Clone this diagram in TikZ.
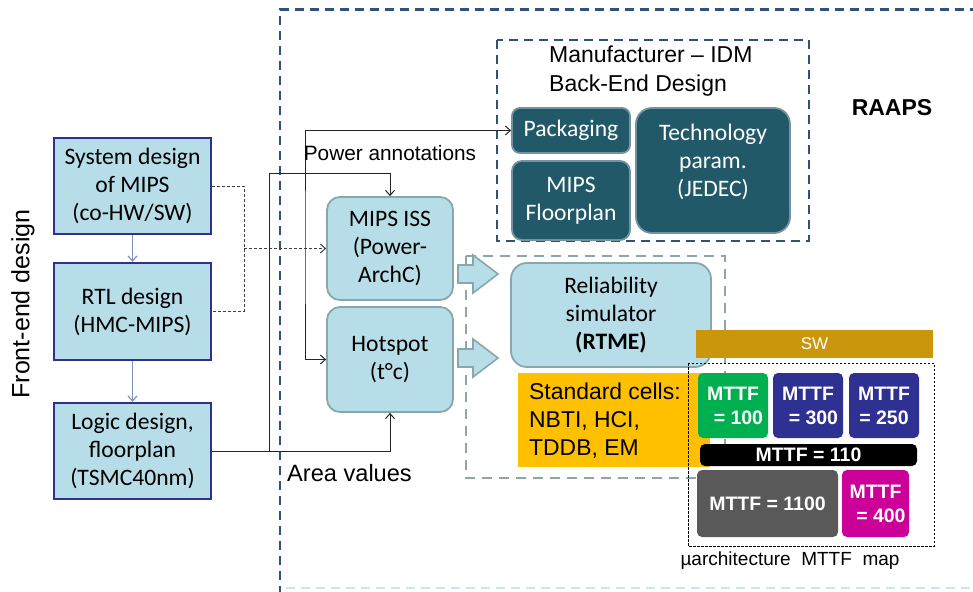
\documentclass[tikz,border=0pt]{standalone}
\usepackage{fontspec}
\setmainfont{Carlito}
\newfontfamily\arial{Liberation Sans}
\usetikzlibrary{arrows.meta}
\definecolor{lb}{HTML}{B7DEE8}
\definecolor{lbd}{HTML}{86A7AC}
\definecolor{navyb}{HTML}{2E3192}
\definecolor{dk}{HTML}{215968}
\definecolor{dkb}{HTML}{7393A0}
\definecolor{dblue}{HTML}{2F5278}
\definecolor{gdash}{HTML}{8FA6A6}
\definecolor{flowc}{HTML}{7F93B8}
\definecolor{orng}{HTML}{FFC000}
\definecolor{swc}{HTML}{C9960C}
\definecolor{gcell}{HTML}{00B050}
\definecolor{ncell}{HTML}{2E3192}
\definecolor{grcell}{HTML}{595959}
\definecolor{mcell}{HTML}{CC0099}
\definecolor{faintb}{HTML}{CFE3F0}
\begin{document}
\begin{tikzpicture}[x=1pt,y=-1pt,
  cal/.style={font=\fontsize{23.6}{28}\selectfont},
  lbox/.style={cal, draw=navyb, line width=2.4pt, fill=lb, minimum width=157, minimum height=96, inner sep=0, align=center},
  rnode/.style={cal, draw=lbd, line width=1.8pt, fill=lb, rounded corners=13pt, inner sep=0, align=center},
  dnode/.style={cal, draw=dkb, line width=1.8pt, fill=dk, rounded corners=9pt, text=white, inner sep=0, align=center},
  cell/.style={rounded corners=5pt, text=white, font=\arial\bfseries\fontsize{19.5}{24}\selectfont, align=center, inner sep=0},
  flow/.style={draw=flowc, line width=1.2pt, -{Straight Barb[length=5pt,width=9pt]}},
  dsh/.style={draw=black!75, line width=1pt, dash pattern=on 3pt off 2pt},
  ln/.style={draw=black!85, line width=1pt},
  tip/.style={-{Straight Barb[length=5pt,width=9pt]}},
  atext/.style={font=\arial\fontsize{#1}{#1}\selectfont, inner sep=0},
  barrow/.style={fill=lb, draw=lbd, line width=1.6pt, line join=miter}
]
\useasboundingbox (0,0) rectangle (973,591);
\clip (0,0) rectangle (973,591);
\fill[white] (0,0) rectangle (973,591);

% outer RAAPS dashed frame
\draw[dblue, line width=2.6pt, dash pattern=on 9pt off 6pt] (280,610) -- (280,9.5) -- (990,9.5);
\draw[faintb, line width=1.5pt, dash pattern=on 9pt off 6pt] (286,588) -- (973,588);

% left front-end boxes
\node[lbox] (b1) at (132.5,186) {System design\\of MIPS\\(co-HW/SW)};
\node[lbox, minimum height=97] (b2) at (132.5,311.5) {RTL design\\(HMC-MIPS)};
\node[lbox] (b3) at (132.5,451) {Logic design,\\floorplan\\(TSMC40nm)};
\draw[flow] (b1.south) -- (b2.north);
\draw[flow] (b2.south) -- (b3.north);
\node[atext=25, rotate=90] (fe) at (23,304) {Front-end design};

% ISS and Hotspot
\node[rnode, minimum width=126, minimum height=103] (iss) at (390,248.5) {MIPS ISS\\(Power-\\ArchC)};
\node[rnode, minimum width=126, minimum height=105] (hot) at (390,359.5) {Hotspot\\(t\textdegree c)};

% manufacturer box
\draw[dblue, line width=2.6pt, dash pattern=on 9pt off 6pt] (497,40) rectangle (809,241);
\node[anchor=west, align=left, inner sep=0, font=\arial\fontsize{23}{29}\selectfont] (man) at (549,71.5) {Manufacturer – IDM\\Back-End Design};
\node[dnode, minimum width=118, minimum height=45, rounded corners=8pt] (pack) at (571,130.5) {Packaging};
\node[dnode, minimum width=118, minimum height=79, rounded corners=10pt] (floor) at (571,200.5) {MIPS\\Floorplan};
\node[dnode, minimum width=154, minimum height=125, rounded corners=16pt] (tech) at (713,170.5) {};
\node[cal, text=white, align=center, inner sep=0] (techt) at (713,162) {Technology\\param.\\(JEDEC)};
\node[inner sep=0, font=\arial\bfseries\fontsize{23}{23}\selectfont] (raaps) at (892,108) {RAAPS};

% connectors
\coordinate (jd) at (244,248.5);
\draw[dsh] (b1.east) -| (jd) |- (b2.east);
\draw[dsh, tip] (jd) -- (iss.west);
\coordinate (js) at (269,451);
\coordinate (ja) at (269,173);
\draw[ln, tip] (b3.east) -| (hot.south);
\draw[ln, tip] (js) -- (ja) -| (iss.north);
\coordinate (pc) at (305,250);
\draw[ln, {Straight Barb[length=5pt,width=9pt]}-{Straight Barb[length=5pt,width=9pt]}] (pack.west) -| (pc) |- (hot.west);
\node[atext=20.8] (pwr) at (390,153) {Power annotations};
\node[atext=23.6, anchor=west] (area) at (287,473) {Area values};

% reliability region
\draw[gdash, line width=2pt, dash pattern=on 10pt off 7pt] (466,256) rectangle (725,478);
\draw[barrow] (458,265) -- (473,265) -- (473,255) -- (498,274) -- (473,293) -- (473,283) -- (458,283) -- cycle;
\draw[barrow] (458,349) -- (473,349) -- (473,339) -- (498,358) -- (473,377) -- (473,367) -- (458,367) -- cycle;
\node[rnode, minimum width=200, minimum height=104, rounded corners=16pt] (rel) at (611,315) {Reliability\\simulator\\\textbf{(RTME)}};
\node[fill=orng, minimum width=192, minimum height=94, inner sep=0] (std) at (614,420) {};
\node[anchor=west, align=left, inner sep=0, font=\arial\fontsize{22.9}{28}\selectfont] (stdt) at (529,421) {Standard cells:\\NBTI, HCI,\\TDDB, EM};

% MTTF map
\node[fill=swc, minimum width=237, minimum height=28, inner sep=0, text=white, font=\arial\fontsize{17}{17}\selectfont] (sw) at (814.5,344) {SW};
\draw[black, line width=0.8pt, dash pattern=on 2.5pt off 1.5pt] (688,363) rectangle (934,546);
\node[cell, fill=gcell, minimum width=70, minimum height=65] (c1) at (733,405.5) {MTTF\\\ \ = 100};
\node[cell, fill=ncell, minimum width=70, minimum height=65] (c2) at (808,405.5) {MTTF\\\ \ = 300};
\node[cell, fill=ncell, minimum width=70, minimum height=65] (c3) at (884,405.5) {MTTF\\= 250};
\node[cell, fill=black, minimum width=217, minimum height=22] (c4) at (808.5,455) {MTTF = 110};
\node[cell, fill=grcell, minimum width=141, minimum height=67] (c5) at (767.5,503.5) {MTTF = 1100};
\node[cell, fill=mcell, minimum width=67, minimum height=67] (c6) at (875.5,503.5) {MTTF\\\ \ = 400};
\node[atext=19] (mapl) at (790,561) {µarchitecture\ \ MTTF\ \ map};
\end{tikzpicture}
\end{document}
